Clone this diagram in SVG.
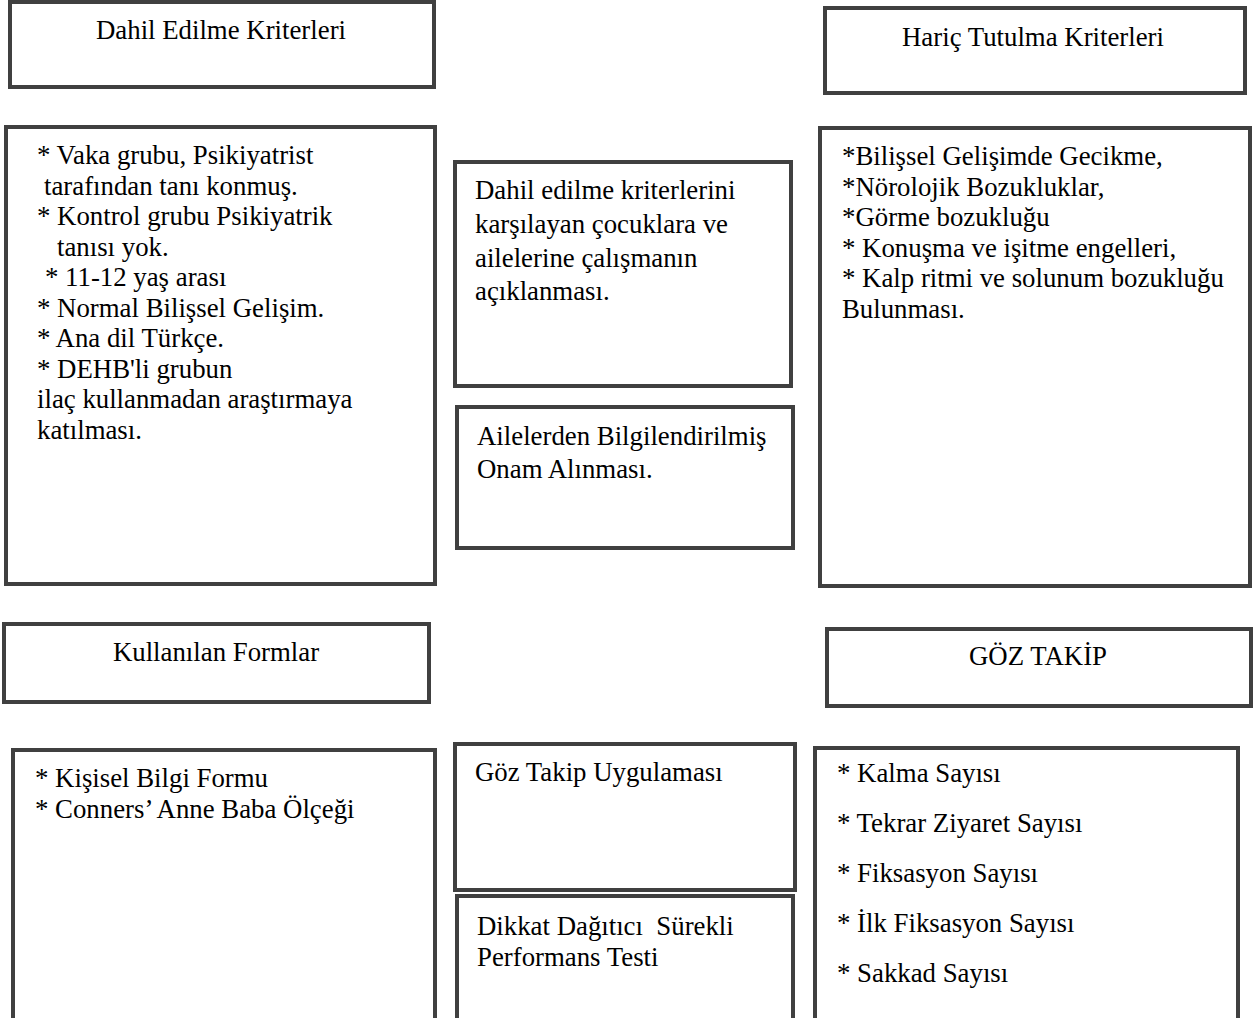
<svg xmlns="http://www.w3.org/2000/svg" width="1256" height="1018" viewBox="0 0 1256 1018">
<style>
.box{fill:#fff;stroke:#404040;stroke-width:4}
text{font-family:"Liberation Serif","Times New Roman",serif;font-size:26.8px;fill:#000}
.c{text-anchor:middle}
</style>
<rect width="1256" height="1018" fill="#fff"/>
<g id="connectors"></g>
<g id="n-dahil-baslik">
<rect class="box" x="10" y="2" width="424" height="85"/>
<text class="c" x="221" y="39">Dahil Edilme Kriterleri</text>
</g>
<g id="n-haric-baslik">
<rect class="box" x="825" y="8" width="420" height="85"/>
<text class="c" x="1033" y="46">Hariç Tutulma Kriterleri</text>
</g>
<g id="n-dahil-liste">
<rect class="box" x="6" y="127" width="429" height="457"/>
<text x="37" y="164">* Vaka grubu, Psikiyatrist</text>
<text x="44" y="194.5">tarafından tanı konmuş.</text>
<text x="37" y="225">* Kontrol grubu Psikiyatrik</text>
<text x="57" y="255.5">tanısı yok.</text>
<text x="45" y="286">* 11-12 yaş arası</text>
<text x="37" y="316.5">* Normal Bilişsel Gelişim.</text>
<text x="37" y="347">* Ana dil Türkçe.</text>
<text x="37" y="377.5">* DEHB'li grubun</text>
<text x="37" y="408">ilaç kullanmadan araştırmaya</text>
<text x="37" y="438.5">katılması.</text>
</g>
<g id="n-aciklama">
<rect class="box" x="455" y="162" width="336" height="224"/>
<text x="475" y="199">Dahil edilme kriterlerini</text>
<text x="475" y="233">karşılayan çocuklara ve</text>
<text x="475" y="266.5">ailelerine çalışmanın</text>
<text x="475" y="300">açıklanması.</text>
</g>
<g id="n-onam">
<rect class="box" x="457" y="407" width="336" height="141"/>
<text x="477" y="445">Ailelerden Bilgilendirilmiş</text>
<text x="477" y="478">Onam Alınması.</text>
</g>
<g id="n-haric-liste">
<rect class="box" x="820" y="128" width="430" height="458"/>
<text x="842" y="165">*Bilişsel Gelişimde Gecikme,</text>
<text x="842" y="195.5">*Nörolojik Bozukluklar,</text>
<text x="842" y="226">*Görme bozukluğu</text>
<text x="842" y="256.5">* Konuşma ve işitme engelleri,</text>
<text x="842" y="287">* Kalp ritmi ve solunum bozukluğu</text>
<text x="842" y="317.5">Bulunması.</text>
</g>
<g id="n-formlar-baslik">
<rect class="box" x="4" y="624" width="425" height="78"/>
<text class="c" x="216" y="661">Kullanılan Formlar</text>
</g>
<g id="n-formlar-liste">
<rect class="box" x="13" y="750" width="422" height="300"/>
<text x="35" y="787">* Kişisel Bilgi Formu</text>
<text x="35" y="818">* Conners’ Anne Baba Ölçeği</text>
</g>
<g id="n-goz-uygulama">
<rect class="box" x="455" y="744" width="340" height="146"/>
<text x="475" y="781">Göz Takip Uygulaması</text>
</g>
<g id="n-dikkat">
<rect class="box" x="457" y="896" width="336" height="200"/>
<text x="477" y="935">Dikkat Dağıtıcı&#160; Sürekli</text>
<text x="477" y="966">Performans Testi</text>
</g>
<g id="n-goz-baslik">
<rect class="box" x="827" y="629" width="424" height="77"/>
<text class="c" x="1038" y="665">GÖZ TAKİP</text>
</g>
<g id="n-goz-liste">
<rect class="box" x="815" y="748" width="423" height="300"/>
<text x="837" y="782">* Kalma Sayısı</text>
<text x="837" y="832">* Tekrar Ziyaret Sayısı</text>
<text x="837" y="882">* Fiksasyon Sayısı</text>
<text x="837" y="932">* İlk Fiksasyon Sayısı</text>
<text x="837" y="982">* Sakkad Sayısı</text>
</g>
</svg>
